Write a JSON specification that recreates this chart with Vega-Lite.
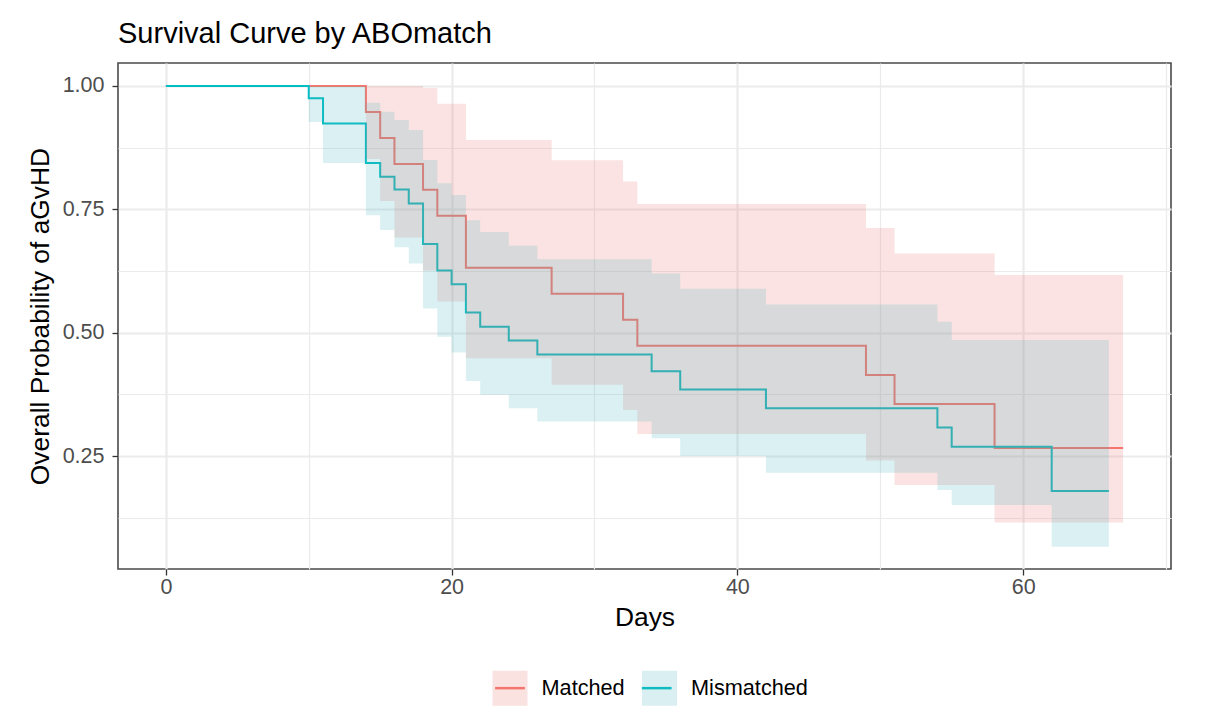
{
  "$schema": "https://vega.github.io/schema/vega-lite/v6.json",
  "width": 1053,
  "height": 506,
  "autosize": {"type": "none"},
  "padding": {"left": 118, "top": 63, "right": 34, "bottom": 156},
  "background": "white",
  "config": {
    "font": "Liberation Sans",
    "view": {"stroke": "#4a4a4a", "strokeWidth": 1.6},
    "axis": {"domain": false}
  },
  "title": {
    "text": "Survival Curve by ABOmatch",
    "anchor": "start",
    "frame": "group",
    "fontSize": 29,
    "fontWeight": "normal",
    "color": "#000000",
    "baseline": "alphabetic",
    "offset": -9
  },
  "data": {
    "values": [
      {"group": "Matched", "time": 0, "surv": 1, "lower": 1, "upper": 1},
      {"group": "Matched", "time": 14, "surv": 0.9474, "lower": 0.8521, "upper": 1},
      {"group": "Matched", "time": 15, "surv": 0.8947, "lower": 0.7668, "upper": 1},
      {"group": "Matched", "time": 16, "surv": 0.8421, "lower": 0.6931, "upper": 1},
      {"group": "Matched", "time": 18, "surv": 0.7895, "lower": 0.6259, "upper": 0.9958},
      {"group": "Matched", "time": 19, "surv": 0.7368, "lower": 0.5632, "upper": 0.964},
      {"group": "Matched", "time": 21, "surv": 0.6316, "lower": 0.448, "upper": 0.8904},
      {"group": "Matched", "time": 27, "surv": 0.5789, "lower": 0.3945, "upper": 0.8495},
      {"group": "Matched", "time": 32, "surv": 0.5263, "lower": 0.3435, "upper": 0.8063},
      {"group": "Matched", "time": 33, "surv": 0.4737, "lower": 0.2949, "upper": 0.7609},
      {"group": "Matched", "time": 49, "surv": 0.4145, "lower": 0.2412, "upper": 0.7124},
      {"group": "Matched", "time": 51, "surv": 0.3553, "lower": 0.1911, "upper": 0.6606},
      {"group": "Matched", "time": 58, "surv": 0.2664, "lower": 0.1151, "upper": 0.6169},
      {"group": "Matched", "time": 67, "surv": 0.2664, "lower": 0.1151, "upper": 0.6169},
      {"group": "Mismatched", "time": 0, "surv": 1, "lower": 1, "upper": 1},
      {"group": "Mismatched", "time": 10, "surv": 0.975, "lower": 0.927, "upper": 1},
      {"group": "Mismatched", "time": 11, "surv": 0.924, "lower": 0.844, "upper": 1},
      {"group": "Mismatched", "time": 14, "surv": 0.844, "lower": 0.738, "upper": 0.966},
      {"group": "Mismatched", "time": 15, "surv": 0.816, "lower": 0.708, "upper": 0.948},
      {"group": "Mismatched", "time": 16, "surv": 0.79, "lower": 0.673, "upper": 0.931},
      {"group": "Mismatched", "time": 17, "surv": 0.762, "lower": 0.64, "upper": 0.911},
      {"group": "Mismatched", "time": 18, "surv": 0.68, "lower": 0.549, "upper": 0.85},
      {"group": "Mismatched", "time": 19, "surv": 0.626, "lower": 0.492, "upper": 0.803},
      {"group": "Mismatched", "time": 20, "surv": 0.598, "lower": 0.46, "upper": 0.779},
      {"group": "Mismatched", "time": 21, "surv": 0.541, "lower": 0.402, "upper": 0.728},
      {"group": "Mismatched", "time": 22, "surv": 0.512, "lower": 0.374, "upper": 0.704},
      {"group": "Mismatched", "time": 24, "surv": 0.484, "lower": 0.347, "upper": 0.676},
      {"group": "Mismatched", "time": 26, "surv": 0.456, "lower": 0.32, "upper": 0.649},
      {"group": "Mismatched", "time": 34, "surv": 0.422, "lower": 0.286, "upper": 0.62},
      {"group": "Mismatched", "time": 36, "surv": 0.385, "lower": 0.25, "upper": 0.589},
      {"group": "Mismatched", "time": 42, "surv": 0.347, "lower": 0.216, "upper": 0.557},
      {"group": "Mismatched", "time": 54, "surv": 0.308, "lower": 0.181, "upper": 0.522},
      {"group": "Mismatched", "time": 55, "surv": 0.269, "lower": 0.151, "upper": 0.485},
      {"group": "Mismatched", "time": 62, "surv": 0.179, "lower": 0.066, "upper": 0.485},
      {"group": "Mismatched", "time": 66, "surv": 0.179, "lower": 0.066, "upper": 0.485}
    ]
  },
  "layer": [
    {
      "mark": {"type": "line", "interpolate": "step-after", "strokeWidth": 2},
      "encoding": {
        "x": {
          "field": "time",
          "type": "quantitative",
          "scale": {"domain": [-3.35, 70.35], "nice": false, "zero": false},
          "axis": {
            "orient": "bottom",
            "values": [0, 20, 40, 60],
            "grid": true,
            "gridColor": "#EBEBEB",
            "gridWidth": 2.2,
            "tickColor": "#333333",
            "tickWidth": 1.3,
            "tickSize": 6,
            "labelFontSize": 21.5,
            "labelColor": "#4D4D4D",
            "labelPadding": 1,
            "title": "Days",
            "titleFontSize": 26.4,
            "titleFontWeight": "normal",
            "titleColor": "#000000",
            "titlePadding": 7
          }
        },
        "y": {
          "field": "surv",
          "type": "quantitative",
          "scale": {"domain": [0.0211, 1.0466], "nice": false, "zero": false},
          "axis": {
            "orient": "left",
            "values": [0.25, 0.5, 0.75, 1],
            "format": ".2f",
            "grid": true,
            "gridColor": "#EBEBEB",
            "gridWidth": 2.2,
            "tickColor": "#333333",
            "tickWidth": 1.3,
            "tickSize": 6,
            "labelFontSize": 21.5,
            "labelColor": "#4D4D4D",
            "labelPadding": 8,
            "title": "Overall Probability of aGvHD",
            "titleFontSize": 26.4,
            "titleFontWeight": "normal",
            "titleColor": "#000000",
            "titlePadding": 8
          }
        },
        "stroke": {
          "field": "group",
          "type": "nominal",
          "scale": {"domain": ["Matched", "Mismatched"], "range": ["#F8766D", "#00BFC4"]},
          "legend": {
            "orient": "none",
            "legendX": 373,
            "legendY": 606,
            "direction": "horizontal",
            "title": null,
            "padding": 0,
            "symbolType": "M-0.85,0H0.85",
            "symbolSize": 1225,
            "symbolStrokeWidth": 2.5,
            "labelFontSize": 21.7,
            "labelOffset": 12.5,
            "columnPadding": 94.7,
            "labelExpr": "''"
          }
        }
      }
    },
    {
      "mark": {"type": "area", "interpolate": "step-after", "fillOpacity": 0.2},
      "encoding": {
        "x": {
          "field": "time",
          "type": "quantitative",
          "axis": {
            "orient": "top",
            "values": [10, 30, 50, 70],
            "grid": true,
            "gridColor": "#EBEBEB",
            "gridWidth": 1.2,
            "ticks": false,
            "labels": false,
            "title": null
          }
        },
        "y": {
          "field": "lower",
          "type": "quantitative",
          "axis": {
            "orient": "right",
            "values": [0.125, 0.375, 0.625, 0.875],
            "grid": true,
            "gridColor": "#EBEBEB",
            "gridWidth": 1.2,
            "ticks": false,
            "labels": false,
            "title": null
          }
        },
        "y2": {"field": "upper"},
        "fill": {
          "field": "group",
          "type": "nominal",
          "scale": {"range": ["#E8746E", "#4CB5BC"]},
          "legend": {
            "orient": "none",
            "legendX": 373,
            "legendY": 606,
            "direction": "horizontal",
            "title": null,
            "padding": 0,
            "symbolType": "square",
            "symbolSize": 1225,
            "symbolOpacity": 0.2,
            "symbolStrokeWidth": 2.5,
            "symbolStrokeColor": "transparent",
            "labelFontSize": 21.7,
            "labelColor": "#000000",
            "labelOffset": 12.5,
            "columnPadding": 11.5
          }
        }
      }
    }
  ]
}
